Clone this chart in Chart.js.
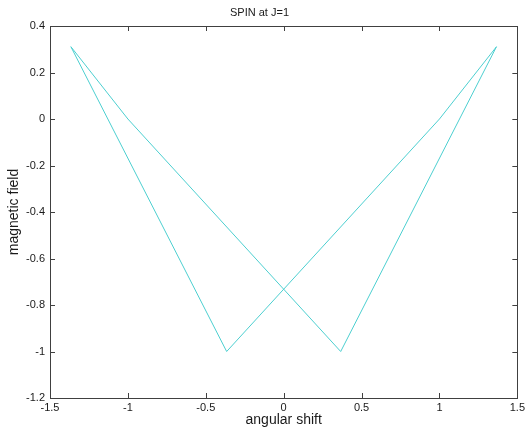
<!DOCTYPE html>
<html>
<head>
<meta charset="utf-8">
<script src="https://cdn.jsdelivr.net/npm/chart.js@4/dist/chart.umd.min.js"></script>
<style>
  html, body { margin: 0; padding: 0; background: #fff; }
  #wrap { width: 528px; height: 432px; }
</style>
</head>
<body>
<div id="wrap"><canvas id="c" width="528" height="432"></canvas></div>
<script>
(function () {
  'use strict';

  // ---------------------------------------------------------------------------
  // Data (closed polyline)
  // ---------------------------------------------------------------------------

  var shiftX = [-1.366, -1.0, 0.366, 1.366, 1.0, -0.366, -1.366];
  var fieldY = [0.311, 0.0, -1.0, 0.311, 0.0, -1.0, 0.311];

  var xTicks = [-1.5, -1, -0.5, 0, 0.5, 1, 1.5];
  var yTicks = [-1.2, -1, -0.8, -0.6, -0.4, -0.2, 0, 0.2, 0.4];

  var LINE   = '#4ccfd0';
  var AXIS   = '#404040';
  var TEXT   = '#1a1a1a';
  var FONT   = '"Liberation Sans", Arial, sans-serif';

  function fmt(v) { return String(Math.round(v * 10) / 10); }

  // MATLAB style box with inward ticks on all four sides
  var boxPlugin = {
    id: 'box',
    afterDraw: function (chart) {
      var ctx = chart.ctx;
      var a = chart.chartArea;
      var xs = chart.scales.x, ys = chart.scales.y;
      var len = 5;
      ctx.save();
      ctx.strokeStyle = AXIS;
      ctx.lineWidth = 1;
      ctx.strokeRect(Math.round(a.left) + 0.5, Math.round(a.top) + 0.5,
                     Math.round(a.right - a.left), Math.round(a.bottom - a.top));
      ctx.beginPath();
      xTicks.forEach(function (v) {
        var px = Math.round(xs.getPixelForValue(v)) + 0.5;
        ctx.moveTo(px, a.bottom); ctx.lineTo(px, a.bottom - len);
        ctx.moveTo(px, a.top);    ctx.lineTo(px, a.top + len);
      });
      yTicks.forEach(function (v) {
        var py = Math.round(ys.getPixelForValue(v)) + 0.5;
        ctx.moveTo(a.left, py);  ctx.lineTo(a.left + len, py);
        ctx.moveTo(a.right, py); ctx.lineTo(a.right - len, py);
      });
      ctx.stroke();
      ctx.restore();
    }
  };

  new Chart(document.getElementById('c'), {
    type: 'scatter',
    data: {
      datasets: [{
        data: shiftX.map(function (x, i) { return { x: x, y: fieldY[i] }; }),
        showLine: true,
        borderColor: LINE,
        backgroundColor: LINE,
        borderWidth: 1,
        pointRadius: 0,
        tension: 0
      }]
    },
    options: {
      responsive: false,
      animation: false,
      events: [],
      layout: { padding: { left: 0, top: 0, right: 9, bottom: 0 } },
      plugins: {
        legend: { display: false },
        tooltip: { enabled: false },
        title: {
          display: true,
          text: 'SPIN at J=1',
          color: TEXT,
          font: { family: FONT, size: 11, weight: 'normal' },
          padding: { top: 6, bottom: 6.8 }
        }
      },
      scales: {
        x: {
          type: 'linear',
          min: -1.5, max: 1.5,
          afterBuildTicks: function (s) { s.ticks = xTicks.map(function (v) { return { value: v }; }); },
          afterFit: function (s) { s.height = 34; },
          grid: { display: false, drawTicks: false },
          border: { display: false },
          ticks: {
            color: TEXT, padding: 3,
            font: { family: FONT, size: 11 },
            maxRotation: 0,
            callback: function (v) { return fmt(v); }
          },
          title: {
            display: true, text: 'angular shift', color: TEXT,
            font: { family: FONT, size: 14 },
            padding: { top: 0, bottom: 3 }
          }
        },
        y: {
          type: 'linear',
          min: -1.2, max: 0.4,
          afterBuildTicks: function (s) { s.ticks = yTicks.map(function (v) { return { value: v }; }); },
          afterFit: function (s) { s.width = 50; },
          grid: { display: false, drawTicks: false },
          border: { display: false },
          ticks: {
            color: TEXT, padding: 5,
            font: { family: FONT, size: 11 },
            callback: function (v) { return fmt(v); }
          },
          title: {
            display: true, text: 'magnetic field', color: TEXT,
            font: { family: FONT, size: 14 },
            padding: { top: 6, bottom: 0 }
          }
        }
      }
    },
    plugins: [boxPlugin]
  });
})();
</script>
</body>
</html>
